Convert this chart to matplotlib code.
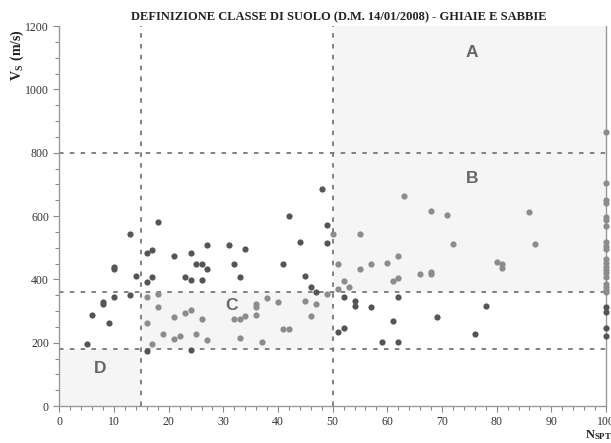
import matplotlib
matplotlib.use("Agg")
import matplotlib.pyplot as plt
from matplotlib.ticker import MultipleLocator

plt.rcParams['mathtext.fontset'] = 'custom'
plt.rcParams['mathtext.rm'] = 'Liberation Serif'
plt.rcParams['mathtext.bf'] = 'Liberation Serif:bold'

# ---- data ----
dark_n = [5, 6, 8, 8, 9, 10, 10, 10, 13, 14, 13, 16, 17, 18, 16, 17, 16, 21, 24, 23,
          24, 25, 26, 27, 26, 27, 24, 31, 32, 33, 34, 41, 42, 44, 45, 46, 47, 48, 49, 49,
          51, 52, 52, 54, 54, 57, 61, 62, 59, 62, 69, 76, 78, 100, 100, 100, 100]
dark_vs = [196, 287, 330, 322, 263, 438, 432, 343, 543, 411, 350, 482, 493, 580, 392, 409, 174, 475, 482, 409,
           398, 447, 447, 434, 398, 509, 178, 509, 447, 409, 497, 450, 601, 517, 411, 377, 361, 684, 571, 514,
           233, 245, 343, 333, 316, 312, 268, 343, 201, 201, 282, 229, 317, 314, 298, 246, 222]

light_n = [16, 18, 18, 16, 19, 17, 21, 21, 22, 23, 24, 25, 26, 27, 32, 33, 34, 33, 36, 36,
           36, 37, 38, 40, 41, 42, 45, 46, 47, 49, 50, 51, 51, 52, 53, 55, 55, 57, 60, 62,
           61, 62, 63, 66, 68, 68, 68, 71, 72, 80, 81, 81, 86, 87,
           100, 100, 100, 100, 100, 100, 100, 100, 100, 100, 100, 100, 100, 100, 100, 100, 100, 100, 100, 100]
light_vs = [345, 355, 314, 261, 229, 196, 282, 213, 221, 293, 304, 229, 274, 209, 274, 274, 284, 215, 322, 314,
            287, 203, 342, 327, 243, 243, 332, 285, 322, 354, 542, 450, 368, 396, 377, 544, 433, 448, 452, 474,
            395, 405, 662, 417, 422, 417, 616, 604, 513, 455, 449, 435, 613, 513,
            866, 703, 651, 640, 598, 587, 568, 519, 505, 496, 463, 452, 440, 429, 419, 408, 384, 376, 367, 361]

n_limits = [15, 50]
vs_limits = [180, 360, 800]
zone_labels = ['A', 'B', 'C', 'D']
zone_label_pos = [(75.5, 1118), (75.5, 720), (31.5, 318), (7.5, 120)]
zones = [(50, 100, 800, 1200), (50, 100, 360, 800), (15, 50, 180, 360), (0, 15, 0, 180)]

title = "DEFINIZIONE CLASSE DI SUOLO (D.M. 14/01/2008) - GHIAIE E SABBIE"

# ---- figure ----
fig = plt.figure(figsize=(6.11, 4.43), dpi=100)
ax = fig.add_axes([0.0972, 0.0835, 0.8946, 0.8577])
ax.set_xlim(0, 100)
ax.set_ylim(0, 1200)

for (x0, x1, y0, y1) in zones:
    ax.axvspan(x0, x1, ymin=y0 / 1200, ymax=y1 / 1200, color='#f5f5f5', lw=0, zorder=0)

for xv in n_limits:
    ax.axvline(xv, color='#777777', lw=1.3, ls=(0, (2.5, 3.5)), zorder=1)
for yv in vs_limits:
    ax.axhline(yv, color='#777777', lw=1.3, ls=(0, (2.5, 3.5)), zorder=1)

ax.scatter(dark_n, dark_vs, s=20, color='#555555', zorder=3, clip_on=False, linewidths=0)
ax.scatter(light_n, light_vs, s=20, color='#8c8c8c', zorder=3, clip_on=False, linewidths=0)

for lab, (xx, yy) in zip(zone_labels, zone_label_pos):
    ax.text(xx, yy, lab, ha='center', va='center', fontsize=12.5, fontweight='bold',
            color='#666666', family='Liberation Sans')

ax.spines['top'].set_visible(False)
for s in ['left', 'bottom', 'right']:
    ax.spines[s].set_color('#999999')
    ax.spines[s].set_linewidth(1.0)

ax.xaxis.set_major_locator(MultipleLocator(10))
ax.xaxis.set_minor_locator(MultipleLocator(2))
ax.yaxis.set_major_locator(MultipleLocator(200))
ax.yaxis.set_minor_locator(MultipleLocator(50))
ax.tick_params(axis='both', which='both', direction='out', color='#888888')
ax.tick_params(axis='both', which='major', length=4, width=0.8, labelsize=8.5, labelcolor='#333333')
ax.tick_params(axis='both', which='minor', length=3, width=0.8)
ax.tick_params(axis='y', which='both', right=False)
for lbl in ax.get_xticklabels() + ax.get_yticklabels():
    lbl.set_family('Liberation Serif')
ax.tick_params(axis='x', pad=3)

fig.text(0.555, 0.962, title, ha='center', va='center', fontsize=9, fontweight='bold',
         family='Liberation Serif', color='#222222')
fig.text(0.028, 0.875, r'$\mathbf{V_{S}\ (m/s)}$', rotation=90, ha='center', va='center',
         fontsize=10, color='#222222')
fig.text(0.958, 0.002, r'$\mathbf{N_{SPT}}$', ha='left', va='bottom', fontsize=9, color='#222222')

fig.savefig('out.png', dpi=100)
